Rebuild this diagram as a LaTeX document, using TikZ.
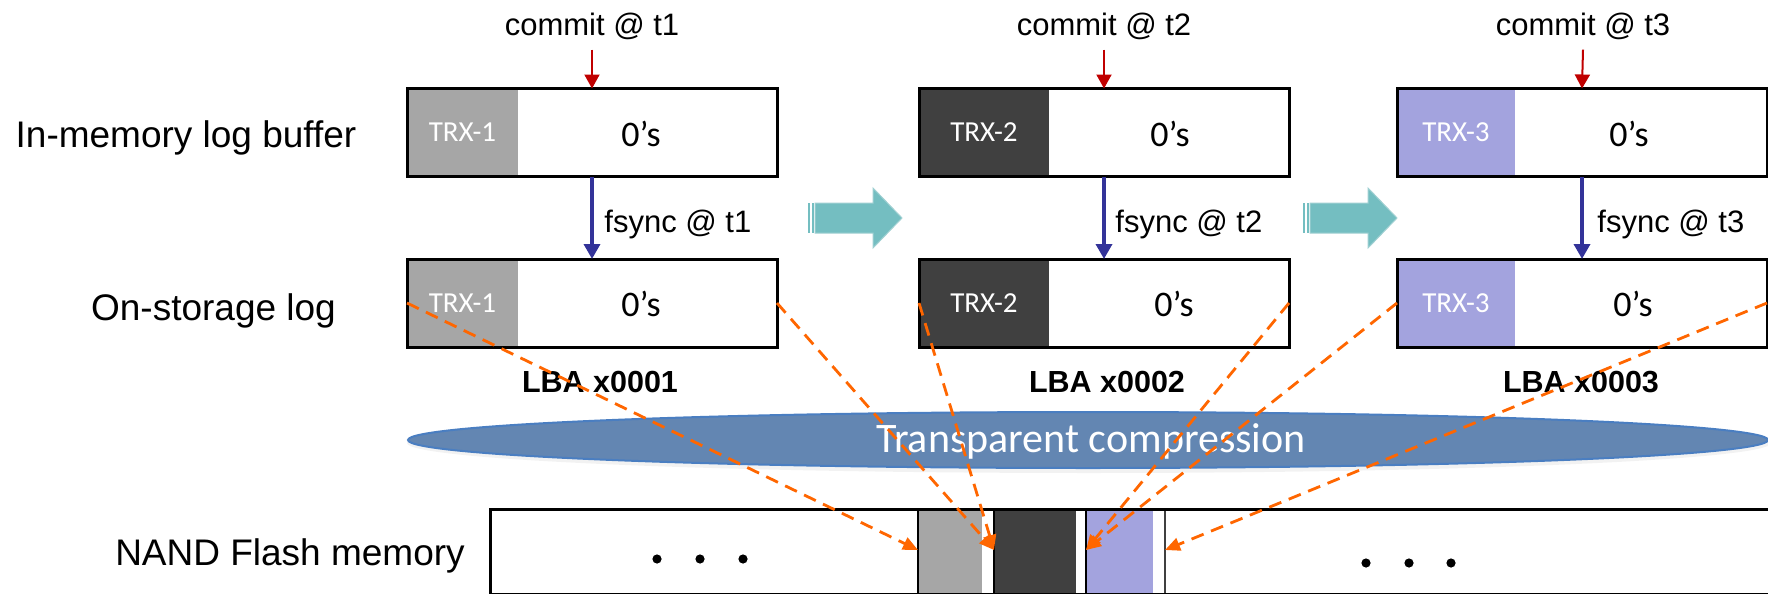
\documentclass[tikz,border=0pt]{standalone}
\usepackage{fontspec}
\setmainfont{Liberation Sans}
\newfontfamily\calibri{Carlito}
\usetikzlibrary{arrows.meta,shapes.geometric,backgrounds}

\definecolor{trxgray}{RGB}{166,166,166}
\definecolor{trxdark}{RGB}{64,64,64}
\definecolor{trxviolet}{RGB}{163,163,222}
\definecolor{stepteal}{RGB}{116,190,193}
\definecolor{steptealedge}{RGB}{160,208,210}
\definecolor{commitred}{RGB}{192,0,0}
\definecolor{syncblue}{RGB}{51,51,153}
\definecolor{maporange}{RGB}{255,102,0}
\definecolor{zipfill}{RGB}{99,134,178}
\definecolor{zipedge}{RGB}{74,126,193}

\tikzset{
  frame/.style={draw=black, line width=1.5pt, minimum width=185pt, minimum height=44pt,
    inner sep=0pt, outer sep=0pt},
  trxpart/.style={anchor=west, inner sep=0pt, outer sep=0pt, minimum height=44pt,
    text=white, font=\calibri\fontsize{14.5}{17}\selectfont},
  zeros/.style={anchor=base, inner sep=0pt, font=\calibri\fontsize{18}{21}\selectfont},
  rowlabel/.style={anchor=base, inner sep=0pt, font=\fontsize{18.5}{22}\selectfont},
  eventlabel/.style={inner sep=0pt, font=\fontsize{15.5}{18}\selectfont},
  lbalabel/.style={anchor=base, inner sep=0pt, font=\bfseries\fontsize{15.25}{18}\selectfont},
  commitarrow/.style={draw=commitred, line width=1pt, -{Triangle[length=7pt,width=7.5pt]}},
  syncarrow/.style={draw=syncblue, line width=1.75pt, -{Triangle[length=7.5pt,width=8pt]}},
  maparrow/.style={draw=maporange, line width=1.4pt, dash pattern=on 6.5pt off 4pt,
    -{Triangle[length=7.5pt,width=6.5pt]}},
  cellline/.style={line width=1pt},
  shiftarrow/.pic={
    \fill[stepteal] (0,-15) rectangle (2,15);
    \fill[stepteal] (3.5,-15) rectangle (5.5,15);
    \filldraw[fill=stepteal, draw=steptealedge, line width=0.5pt]
      (7,-15) -- (65,-15) -- (65,-30) -- (94,0) -- (65,30) -- (65,15) -- (7,15) -- cycle;
  }
}

\begin{document}
\begin{tikzpicture}[x=0.5pt,y=-0.5pt]
\useasboundingbox (0,0) rectangle (1768,594);
\clip (0,0) rectangle (1768,594);

% row labels
\node[rowlabel] (lblmem)  at (186,147)   {In-memory log buffer};
\node[rowlabel] (lbllog)  at (213.5,320) {On-storage log};
\node[rowlabel] (lblnand) at (290,565)   {NAND Flash memory};

% step arrows between the three moments
\pic (step1) at (808,218) {shiftarrow};
\pic (step2) at (1303,218) {shiftarrow};

% log buffer (top) and on-storage log (bottom) blocks
\node[frame] (mem1) at (592,132.5) {};
\node[frame] (mem2) at (1104,132.5) {};
\node[frame] (mem3) at (1582,132.5) {};
\node[frame] (log1) at (592,303) {};
\node[frame] (log2) at (1104,303) {};
\node[frame] (log3) at (1582,303) {};

\begin{scope}[on background layer]
  \node[trxpart, fill=trxgray,   minimum width=55.5pt] (trxm1) at (mem1.west) {TRX-1};
  \node[trxpart, fill=trxdark,   minimum width=65pt]   (trxm2) at (mem2.west) {TRX-2};
  \node[trxpart, fill=trxviolet, minimum width=59pt]   (trxm3) at (mem3.west) {TRX-3};
  \node[trxpart, fill=trxgray,   minimum width=55.5pt] (trxl1) at (log1.west) {TRX-1};
  \node[trxpart, fill=trxdark,   minimum width=65pt]   (trxl2) at (log2.west) {TRX-2};
  \node[trxpart, fill=trxviolet, minimum width=59pt]   (trxl3) at (log3.west) {TRX-3};
\end{scope}

\node[zeros] (zm1) at (641,146)  {0’s};
\node[zeros] (zm2) at (1170,146) {0’s};
\node[zeros] (zm3) at (1629,146) {0’s};
\node[zeros] (zl1) at (641,316)  {0’s};
\node[zeros] (zl2) at (1174,316) {0’s};
\node[zeros] (zl3) at (1633,316) {0’s};

% commit events
\node[eventlabel, anchor=base] (cm1) at (592,35)  {commit @ t1};
\node[eventlabel, anchor=base] (cm2) at (1104,35) {commit @ t2};
\node[eventlabel, anchor=base] (cm3) at (1583,35) {commit @ t3};
\draw[commitarrow] ([yshift=-5pt]cm1.south) -- (mem1.north);
\draw[commitarrow] ([yshift=-5pt]cm2.south) -- (mem2.north);
\draw[commitarrow] ([yshift=-5pt]cm3.south) -- (mem3.north);

% fsync events
\draw[syncarrow] (mem1.south) -- (log1.north);
\draw[syncarrow] (mem2.south) -- (log2.north);
\draw[syncarrow] (mem3.south) -- (log3.north);
\node[eventlabel, anchor=base west] (fs1) at (604,232)  {fsync @ t1};
\node[eventlabel, anchor=base west] (fs2) at (1115,232) {fsync @ t2};
\node[eventlabel, anchor=base west] (fs3) at (1597,232) {fsync @ t3};

% logical block addresses
\node[lbalabel] (lba1) at (600,392)  {LBA x0001};
\node[lbalabel] (lba2) at (1107,392) {LBA x0002};
\node[lbalabel] (lba3) at (1581,392) {LBA x0003};

% transparent compression layer with a soft shadow
\node[ellipse, fill=black, opacity=0.05, minimum width=682pt, minimum height=30pt, inner sep=0pt]
  (zipshade) at (1089,443) {};
\node[ellipse, fill=zipfill, draw=zipedge, line width=1pt, minimum width=680pt,
  minimum height=28pt, inner sep=0pt] (zip) at (1088,440) {};
\node[anchor=base, inner sep=0pt, text=white, font=\calibri\fontsize{21}{24}\selectfont]
  (ziplabel) at (1091,452) {Transparent compression};

% NAND flash with the three compressed blocks
\fill[trxgray]   (918,509) rectangle (982,600);
\fill[trxdark]   (994,509) rectangle (1076,600);
\fill[trxviolet] (1086,509) rectangle (1153,600);
\coordinate (cut0) at (918,550);
\coordinate (cut1) at (994,550);
\coordinate (cut2) at (1086,550);
\coordinate (cut3) at (1165,550);
\draw[cellline] (918,509) -- (918,600);
\draw[cellline] (994,509) -- (994,600);
\draw[cellline] (1086,509) -- (1086,600);
\draw[cellline, draw=black!75] (1165,509) -- (1165,600);
\node[draw=black, line width=1.5pt, anchor=north west, minimum width=660pt, minimum height=42.5pt,
  inner sep=0pt, outer sep=0pt] (nand) at (490,509) {};

\foreach \dx in {657,700,743} \fill (\dx,559) circle[radius=2.3pt];
\foreach \dx in {1366,1409,1451} \fill (\dx,563) circle[radius=2.3pt];

% mapping of each logical block onto flash
\draw[maparrow] (log1.west) -- (cut0);
\draw[maparrow] (log1.east) -- (cut1);
\draw[maparrow] (log2.west) -- (cut1);
\draw[maparrow] (log2.east) -- (cut2);
\draw[maparrow] (log3.west) -- (cut2);
\draw[maparrow] (log3.east) -- (cut3);
\end{tikzpicture}
\end{document}
